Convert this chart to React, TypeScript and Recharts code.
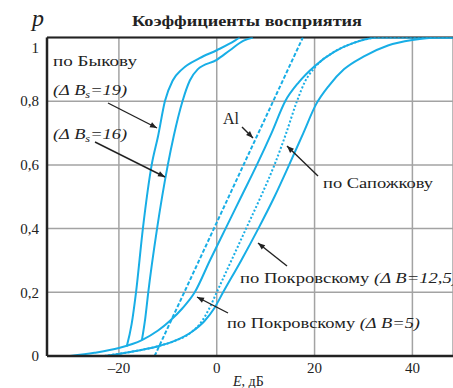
import React from 'react'
import { LineChart, Line, XAxis, YAxis, CartesianGrid, ReferenceLine } from 'recharts'

// axis ticks
const xTicks = [-20, 0, 20, 40]
const yTicks = [0, 0.2, 0.4, 0.6, 0.8, 1]

// curves as [E (dB), p] pairs
const bykov19: [number, number][] = [
  [-18.4, 0.03], [-17.4, 0.1], [-16.5, 0.2], [-15.1, 0.4], [-13.3, 0.6], [-12, 0.69],
  [-10.6, 0.8], [-9, 0.865], [-7.1, 0.9], [-3.5, 0.935], [0, 0.96], [3.7, 0.99], [4.7, 1],
]
const bykov16: [number, number][] = [
  [-15.3, 0.05], [-14.6, 0.12], [-14, 0.2], [-12.2, 0.4], [-10, 0.6], [-8.8, 0.69],
  [-7, 0.8], [-5.5, 0.865], [-3.9, 0.9], [0, 0.93], [2.7, 0.96], [5.5, 0.99], [7.4, 1],
]
const aluminium: [number, number][] = [[-12.7, 0], [17.6, 1]]
const pokrovsky5: [number, number][] = [
  [-30, 0], [-25, 0.01], [-20, 0.025], [-15.3, 0.05], [-12, 0.08], [-9.6, 0.11], [-7, 0.15],
  [-4.5, 0.2], [-1.4, 0.3], [1.8, 0.4], [5, 0.5], [8.2, 0.6], [11.2, 0.7], [14, 0.8],
  [16.8, 0.86], [20, 0.91], [24, 0.955], [28, 0.983], [33, 1], [48.3, 1],
]
const sapozhkov: [number, number][] = [
  [-23, 0], [-18, 0.012], [-12.2, 0.03], [-9, 0.045], [-5, 0.077], [-3, 0.11], [-1.5, 0.15],
  [0, 0.2], [3, 0.3], [6, 0.4], [9, 0.5], [11.8, 0.6], [14.2, 0.7], [16.4, 0.8], [18, 0.86],
  [20, 0.905], [24, 0.955], [28, 0.983], [33, 1], [48.3, 1],
]
const pokrovsky125: [number, number][] = [
  [-23, 0], [-18, 0.012], [-12.2, 0.03], [-9, 0.045], [-5, 0.077], [-2.5, 0.11], [-0.5, 0.15],
  [1.3, 0.2], [5, 0.3], [8.5, 0.4], [11.8, 0.5], [14.8, 0.6], [17.7, 0.7], [20.3, 0.79],
  [23, 0.85], [26, 0.9], [30, 0.94], [35, 0.975], [40, 0.992], [45, 1], [48.3, 1],
]

const W = 453
const H = 388
const CYAN = '#18aee6'
const INK = '#222'
const FONT = '"Liberation Serif", "Times New Roman", serif'

const rows = (pts: [number, number][]) => pts.map(([e, p]) => ({ e, p }))

const curves = [
  { key: 'b19', pts: bykov19, dash: undefined },
  { key: 'b16', pts: bykov16, dash: undefined },
  { key: 'al', pts: aluminium, dash: '4 2' },
  { key: 'p5', pts: pokrovsky5, dash: undefined },
  { key: 'sap', pts: sapozhkov, dash: '2 2' },
  { key: 'p125', pts: pokrovsky125, dash: undefined },
]

function YTick({ x, y, payload }: any) {
  const v = payload.value
  const label = String(v).replace('.', ',')
  return (
    <text x={x} y={y + (v === 1 ? 10 : 0)} dy="0.35em" textAnchor="end" fontFamily={FONT} fontSize={15} fill={INK}>
      {label}
    </text>
  )
}

function XTick({ x, y, payload }: any) {
  const v = payload.value
  const label = v < 0 ? '\u2013' + Math.abs(v) : String(v)
  return (
    <text x={x} y={y + 9} textAnchor="middle" fontFamily={FONT} fontSize={15} fill={INK}>
      {label}
    </text>
  )
}

// arrows: [x1, y1, x2, y2] in pixels
const arrows = [
  [108, 103, 157, 128],
  [95, 142, 165, 177],
  [242, 127, 253, 138],
  [318, 176, 287, 146],
  [287, 266, 258, 243],
  [228, 313, 197, 297],
]

function Overlay() {
  return (
    <svg width={W} height={H} style={{ position: 'absolute', left: 0, top: 0, pointerEvents: 'none' }}>
      <defs>
        <marker id="ah" viewBox="0 0 10 10" refX="10" refY="5" markerUnits="userSpaceOnUse" markerWidth="9" markerHeight="7" orient="auto">
          <path d="M0,1 L10,5 L0,9 z" fill={INK} />
        </marker>
      </defs>
      <text x={247} y={26} textAnchor="middle" fontFamily={FONT} fontWeight="bold" fontSize={14} textLength={230} lengthAdjust="spacingAndGlyphs" fill={INK}>
        Коэффициенты восприятия
      </text>
      <text x={32} y={26} fontFamily={FONT} fontStyle="italic" fontSize={24} fill={INK}>p</text>

      <text x={53} y={66} fontFamily={FONT} fontSize={15} textLength={84} lengthAdjust="spacingAndGlyphs" fill={INK}>по Быкову</text>
      <text x={53} y={95} fontFamily={FONT} fontStyle="italic" fontSize={15} textLength={74} lengthAdjust="spacingAndGlyphs" fill={INK}>
        <tspan>(Δ B</tspan><tspan fontSize={10} dy={3}>s</tspan><tspan dy={-3}>=19)</tspan>
      </text>
      <text x={53} y={139} fontFamily={FONT} fontStyle="italic" fontSize={15} textLength={74} lengthAdjust="spacingAndGlyphs" fill={INK}>
        <tspan>(Δ B</tspan><tspan fontSize={10} dy={3}>s</tspan><tspan dy={-3}>=16)</tspan>
      </text>
      <text x={223} y={124} fontFamily={FONT} fontSize={16} fill={INK}>Al</text>
      <text x={323} y={188} fontFamily={FONT} fontSize={15} textLength={110} lengthAdjust="spacingAndGlyphs" fill={INK}>по Сапожкову</text>
      <text x={240} y={283} fontFamily={FONT} fontSize={15} textLength={218} lengthAdjust="spacingAndGlyphs" fill={INK}>
        по Покровскому <tspan fontStyle="italic">(Δ B=12,5)</tspan>
      </text>
      <text x={227} y={328} fontFamily={FONT} fontSize={15} textLength={193} lengthAdjust="spacingAndGlyphs" fill={INK}>
        по Покровскому <tspan fontStyle="italic">(Δ B=5)</tspan>
      </text>
      <text x={233} y={386} fontFamily={FONT} fontSize={14} fill={INK}>
        <tspan fontStyle="italic">E</tspan>, дБ
      </text>

      {arrows.map(([x1, y1, x2, y2], i) => (
        <line key={i} x1={x1} y1={y1} x2={x2} y2={y2} stroke={INK} strokeWidth={1.4} markerEnd="url(#ah)" />
      ))}
    </svg>
  )
}

export default function App() {
  return (
    <div style={{ position: 'absolute', left: 0, top: 0, width: W, height: H, overflow: 'hidden', background: '#fff' }}>
      <LineChart width={W} height={H} margin={{ top: 37.5, right: 0, left: 0, bottom: 0 }}>
        <CartesianGrid stroke="#a3a3a3" strokeWidth={1.5} />
        <XAxis
          type="number"
          dataKey="e"
          domain={[-34.7, 48.3]}
          allowDataOverflow
          ticks={xTicks}
          height={32}
          tickLine={false}
          axisLine={{ stroke: INK, strokeWidth: 2.5 }}
          tick={<XTick />}
        />
        <YAxis
          type="number"
          dataKey="p"
          domain={[0, 1]}
          allowDataOverflow
          ticks={yTicks}
          width={47}
          tickLine={false}
          axisLine={{ stroke: INK, strokeWidth: 2.5 }}
          tick={<YTick />}
        />
        <ReferenceLine y={1} stroke={INK} strokeWidth={2} />
        {curves.map((c) => (
          <Line
            key={c.key}
            data={rows(c.pts)}
            dataKey="p"
            type="monotone"
            stroke={CYAN}
            strokeWidth={2}
            strokeDasharray={c.dash}
            dot={false}
            isAnimationActive={false}
          />
        ))}
      </LineChart>
      <Overlay />
    </div>
  )
}
